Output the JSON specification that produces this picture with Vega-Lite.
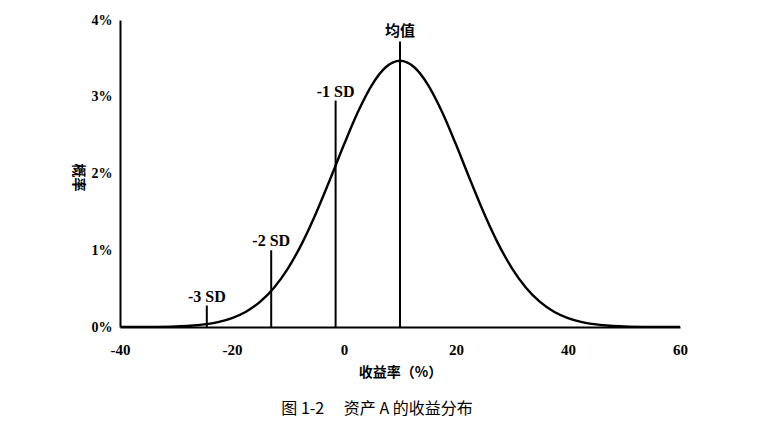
{
  "$schema": "https://vega.github.io/schema/vega-lite/v6.json",
  "width": 560,
  "height": 307,
  "autosize": "none",
  "padding": {"left": 120, "top": 20, "right": 88, "bottom": 104},
  "background": "white",
  "config": {
    "view": {"stroke": null},
    "axis": {"grid": false, "ticks": false, "domainColor": "black", "domainWidth": 2, "labelColor": "black", "titleColor": "black"}
  },
  "title": {
    "text": "图 1-2　 资产 A 的收益分布",
    "orient": "bottom",
    "anchor": "middle",
    "dx": -23,
    "offset": 22,
    "font": "Noto Sans CJK SC",
    "fontSize": 16,
    "fontWeight": "normal",
    "color": "black"
  },
  "datasets": {
    "curve": [
      {"r": -40, "p": 0.0003}, {"r": -35, "p": 0.0016}, {"r": -30, "p": 0.0082},
      {"r": -27.5, "p": 0.017}, {"r": -25, "p": 0.034}, {"r": -22.5, "p": 0.064},
      {"r": -20, "p": 0.116}, {"r": -17.5, "p": 0.199}, {"r": -15, "p": 0.327},
      {"r": -12.5, "p": 0.512}, {"r": -10, "p": 0.765}, {"r": -7.5, "p": 1.090},
      {"r": -5, "p": 1.482}, {"r": -2.5, "p": 1.922}, {"r": 0, "p": 2.377},
      {"r": 2.5, "p": 2.804}, {"r": 5, "p": 3.156}, {"r": 7.5, "p": 3.388},
      {"r": 10, "p": 3.469}, {"r": 12.5, "p": 3.388}, {"r": 15, "p": 3.156},
      {"r": 17.5, "p": 2.804}, {"r": 20, "p": 2.377}, {"r": 22.5, "p": 1.922},
      {"r": 25, "p": 1.482}, {"r": 27.5, "p": 1.090}, {"r": 30, "p": 0.765},
      {"r": 32.5, "p": 0.512}, {"r": 35, "p": 0.327}, {"r": 37.5, "p": 0.199},
      {"r": 40, "p": 0.116}, {"r": 42.5, "p": 0.064}, {"r": 45, "p": 0.034},
      {"r": 47.5, "p": 0.017}, {"r": 50, "p": 0.0082}, {"r": 55, "p": 0.0016},
      {"r": 60, "p": 0.0003}
    ],
    "marks": [
      {"r": 10, "top": 3.72, "label": "均值", "kind": "cjk"},
      {"r": -1.5, "top": 2.95, "label": "-1 SD", "kind": "lat"},
      {"r": -13, "top": 1.0, "label": "-2 SD", "kind": "lat"},
      {"r": -24.5, "top": 0.28, "label": "-3 SD", "kind": "lat"}
    ]
  },
  "layer": [
    {
      "data": {"name": "curve"},
      "mark": {"type": "line", "color": "black", "strokeWidth": 2.4, "interpolate": "monotone", "clip": true},
      "encoding": {
        "x": {
          "field": "r", "type": "quantitative",
          "scale": {"domain": [-40, 60], "nice": false},
          "axis": {
            "values": [-40, -20, 0, 20, 40, 60],
            "labelExpr": "'' + datum.value",
            "title": "收益率（%）",
            "labelFont": "Liberation Serif", "labelFontWeight": "bold", "labelFontSize": 15,
            "labelPadding": 15, "labelFlush": false,
            "titleFont": "Noto Sans CJK SC", "titleFontWeight": "bold", "titleFontSize": 14,
            "titlePadding": 8
          }
        },
        "y": {
          "field": "p", "type": "quantitative",
          "scale": {"domain": [0, 4], "nice": false},
          "axis": {
            "values": [0, 1, 2, 3, 4],
            "labelExpr": "datum.value + '%'",
            "title": "概率",
            "titleAngle": 90,
            "titleAlign": "center",
            "titleBaseline": "middle",
            "titleX": -43,
            "titleY": 157,
            "labelFont": "Liberation Serif", "labelFontWeight": "bold", "labelFontSize": 14,
            "labelPadding": 8,
            "titleFont": "Noto Sans CJK SC", "titleFontWeight": "bold", "titleFontSize": 14
          }
        }
      }
    },
    {
      "data": {"name": "marks"},
      "mark": {"type": "rule", "color": "black", "strokeWidth": 2},
      "encoding": {
        "x": {"field": "r", "type": "quantitative"},
        "y": {"field": "top", "type": "quantitative"},
        "y2": {"datum": 0}
      }
    },
    {
      "data": {"name": "marks"},
      "transform": [{"filter": "datum.kind == 'lat'"}],
      "mark": {"type": "text", "font": "Liberation Serif", "fontWeight": "bold", "fontSize": 16, "baseline": "bottom", "dy": -1, "color": "black"},
      "encoding": {
        "x": {"field": "r", "type": "quantitative"},
        "y": {"field": "top", "type": "quantitative"},
        "text": {"field": "label"}
      }
    },
    {
      "data": {"name": "marks"},
      "transform": [{"filter": "datum.kind == 'cjk'"}],
      "mark": {"type": "text", "font": "Noto Sans CJK SC", "fontWeight": "bold", "fontSize": 15, "baseline": "bottom", "dy": -2, "color": "black"},
      "encoding": {
        "x": {"field": "r", "type": "quantitative"},
        "y": {"field": "top", "type": "quantitative"},
        "text": {"field": "label"}
      }
    }
  ]
}
